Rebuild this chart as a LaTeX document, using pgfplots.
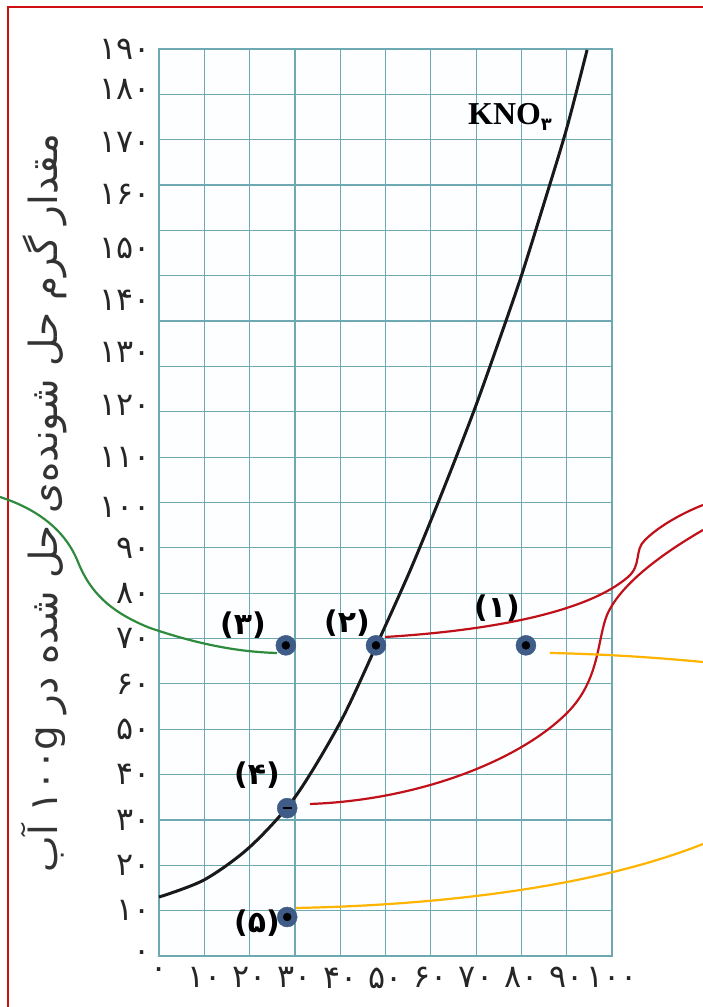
\documentclass[border=0pt]{standalone}
\usepackage{fontspec}
\usepackage{pgfplots}
\pgfplotsset{compat=1.18}
\TeXXeTstate=1
\newfontfamily\arabicfont[Script=Arabic]{DejaVu Sans}
\newfontfamily\serifb{Liberation Serif}
\definecolor{gridc}{RGB}{110,168,176}
\definecolor{dotc}{RGB}{62,92,135}
\definecolor{redc}{RGB}{192,17,26}
\definecolor{greenc}{RGB}{46,139,62}
\definecolor{yellc}{RGB}{255,180,0}
\definecolor{framec}{RGB}{208,16,16}
\begin{document}
\begin{tikzpicture}
\path[use as bounding box] (0,0) rectangle (703bp,1007bp);
\begin{axis}[
  at={(159bp,51bp)}, anchor=south west,
  scale only axis, width=453bp, height=907bp,
  xmin=0,xmax=100,ymin=0,ymax=200,
  xtick={0,10,...,100},
  xticklabels={۰,۱۰,۲۰,۳۰,۴۰,۵۰,۶۰,۷۰,۸۰,۹۰,۱۰۰},
  ytick={0,10,20,30,40,50,60,70,80,90,99,110,121.5,133,144.5,156,168,179.5,191,200},
  yticklabels={۰,۱۰,۲۰,۳۰,۴۰,۵۰,۶۰,۷۰,۸۰,۹۰,۱۰۰,۱۱۰,۱۲۰,۱۳۰,۱۴۰,۱۵۰,۱۶۰,۱۷۰,۱۸۰,۱۹۰},
  minor ytick={0,10,...,200},
  xmajorgrids, yminorgrids, ymajorgrids=false,
  major grid style={color=gridc,line width=1.2bp},
  minor grid style={color=gridc,line width=1.2bp},
  major tick length=0pt, minor tick length=0pt,
  axis line style={color=gridc,line width=1.2bp},
  ticklabel style={font=\arabicfont\fontsize{32}{36}\selectfont, text=black!85},
  yticklabel style={xshift=-5bp},
  xticklabel style={yshift=-8bp},
  axis background/.style={fill=cyan!1},
  clip=false,
]
\addplot[smooth, line width=3bp, black!90] coordinates {
  (0,13) (10,16.8) (20,24) (30,35) (40,51.5) (48,68.5) (55,84) (60,96)
  (65,108.5) (70,121.5) (75,135.5) (80,150) (85,166) (90,182.5) (94.5,199.8)};
\addplot[only marks, mark=*, mark size=10bp, color=dotc] coordinates {
  (28,68.5) (47.9,68.5) (81,68.5) (28.3,32.6) (28.3,8.6)};
\addplot[only marks, mark=*, mark size=4bp, black] coordinates {
  (28,68.5) (47.9,68.5) (81,68.5) (28.3,8.6)};
\addplot[only marks, mark=-, mark size=4.5bp, black, line width=2.5bp] coordinates {(28.3,32.6)};
\end{axis}
\begin{scope}[x=1bp,y=-1bp,shift={(0,1007bp)}]
\draw[framec, line width=2bp] (8,1007) -- (8,7) -- (703,7);
\draw[greenc, line width=2.2bp] (0,497) .. controls (40,510) and (66,532) .. (78,562)
  .. controls (90,592) and (110,612) .. (150,628) .. controls (200,645) and (240,652) .. (277,653);
\draw[redc, line width=2.2bp] (385,637) .. controls (500,630) and (590,610) .. (628,577)
  .. controls (642,565) and (634,550) .. (645,540) .. controls (660,525) and (685,512) .. (703,505);
\draw[redc, line width=2.2bp] (310,804) .. controls (420,800) and (520,760) .. (567,713)
  .. controls (600,680) and (597,640) .. (607,615) .. controls (620,585) and (660,555) .. (703,530);
\draw[yellc, line width=2.2bp] (550,653) .. controls (600,654) and (650,657) .. (703,662);
\draw[yellc, line width=2.2bp] (296,908) .. controls (450,905) and (600,885) .. (703,844);
\node[font=\arabicfont\bfseries\fontsize{30}{34}\selectfont] at (243,625) {(۳)};
\node[font=\arabicfont\bfseries\fontsize{30}{34}\selectfont] at (347,623) {(۲)};
\node[font=\arabicfont\bfseries\fontsize{30}{34}\selectfont] at (497,608) {(۱)};
\node[font=\arabicfont\bfseries\fontsize{30}{34}\selectfont] at (257,775) {(۴)};
\node[font=\arabicfont\bfseries\fontsize{30}{34}\selectfont] at (257,923) {(۵)};
\node at (510,117) {\serifb\bfseries\fontsize{32}{36}\selectfont KNO\raisebox{-6bp}{\arabicfont\bfseries\fontsize{18}{20}\selectfont ۳}};
\node[rotate=90, font=\arabicfont\fontsize{39}{44}\selectfont, text=black!80] at (44,503)
  {\beginR مقدار گرم حل شونده‌ی حل شده در \beginL۱۰۰g\endL{} آب\endR};
\end{scope}
\end{tikzpicture}
\end{document}
